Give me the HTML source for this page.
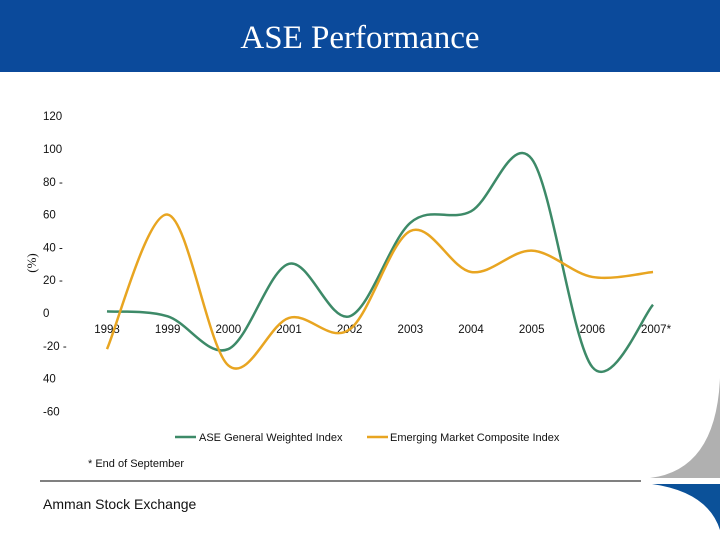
<!DOCTYPE html>
<html><head><meta charset="utf-8"><style>
body{margin:0;width:720px;height:540px;overflow:hidden;background:#fff;font-family:"Liberation Sans",sans-serif}
</style></head><body>
<svg width="720" height="540" style="position:absolute;left:0;top:0">
<rect x="0" y="0" width="720" height="72" fill="#0b4a9b"/>
<text x="360" y="48" text-anchor="middle" fill="#fff" font-family="Liberation Serif" font-size="33">ASE Performance</text>
<g id="chart"></g>
<text x="36" y="263" transform="rotate(-90 36 263)" text-anchor="middle" font-family="Liberation Serif" font-size="13" fill="#111">(%)</text>
<g font-size="11" fill="#111">
<line x1="175" y1="437" x2="196" y2="437" stroke="#3d8a68" stroke-width="2.5"/>
<text x="199" y="441">ASE General Weighted Index</text>
<line x1="367" y1="437" x2="388" y2="437" stroke="#e8a521" stroke-width="2.5"/>
<text x="390" y="441">Emerging Market Composite Index</text>
</g>
<text x="88" y="467" font-size="11" fill="#111">* End of September</text>
<line x1="40" y1="481" x2="641" y2="481" stroke="#000" stroke-width="1"/>
<text x="43" y="509" font-size="14" fill="#111">Amman Stock Exchange</text>
<path d="M650 478 Q716 470 720 378 L720 478 Z" fill="#b0b0b0"/>
<path d="M652 484 Q708 492 720 530 L720 484 Z" fill="#0b5199"/>
</svg>
<script>
const years=["1998","1999","2000","2001","2002","2003","2004","2005","2006","2007*"];
const aseValues=[1,-2,-22,30,-2,55,62,94,-33,5];
const emValues=[-22,60,-32,-3,-10,50,25,38,22,25];
const yTicks=[120,100,80,60,40,20,0,-20,-40,-60];
const yTickLabels=["120","100","80 -","60","40 -","20 -","0","-20 -","40","-60"];
const ns="http://www.w3.org/2000/svg";
const g=document.getElementById('chart');
const x=i=>107+i*60.67;
const y=v=>313-v*1.64;
function el(t,a){const e=document.createElementNS(ns,t);for(const k in a)e.setAttribute(k,a[k]);g.appendChild(e);return e;}
yTicks.forEach((t,i)=>{const e=el('text',{x:43,y:y(t)+4,'font-size':11.5,fill:'#111'});e.textContent=yTickLabels[i];

});
years.forEach((yr,i)=>{const e=el('text',{x:x(i)+(i==9?3:0),y:333,'font-size':11.5,fill:'#111','text-anchor':'middle'});e.textContent=yr;

});
function path(vals){const p=vals.map((v,i)=>[x(i),y(v)]);let d='M'+p[0][0]+' '+p[0][1];
for(let i=0;i<p.length-1;i++){const p0=p[Math.max(0,i-1)],p1=p[i],p2=p[i+1],p3=p[Math.min(p.length-1,i+2)];
d+=` C${p1[0]+(p2[0]-p0[0])/6} ${p1[1]+(p2[1]-p0[1])/6} ${p2[0]-(p3[0]-p1[0])/6} ${p2[1]-(p3[1]-p1[1])/6} ${p2[0]} ${p2[1]}`;}return d;}
const a=el('path',{d:path(aseValues),fill:'none',stroke:'#3d8a68','stroke-width':2.5});


const b=el('path',{d:path(emValues),fill:'none',stroke:'#e8a521','stroke-width':2.5});


</script>
</body></html>
